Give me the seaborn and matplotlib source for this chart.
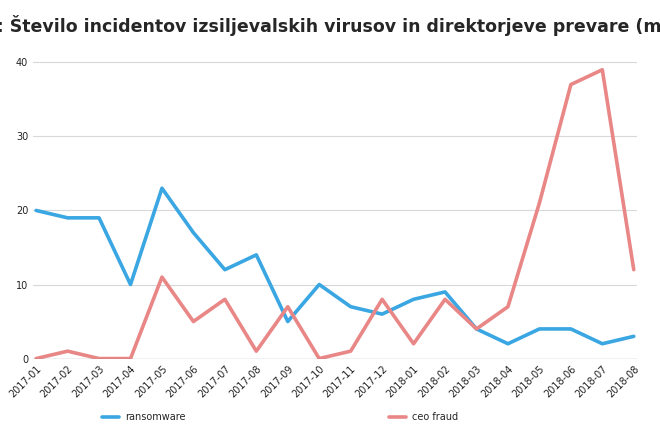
import pandas as pd
import seaborn as sns
import matplotlib.pyplot as plt

months = ["2017-01", "2017-02", "2017-03", "2017-04", "2017-05", "2017-06", "2017-07",
          "2017-08", "2017-09", "2017-10", "2017-11", "2017-12", "2018-01", "2018-02",
          "2018-03", "2018-04", "2018-05", "2018-06", "2018-07", "2018-08"]
ransomware = [20, 19, 19, 10, 23, 17, 12, 14, 5, 10, 7, 6, 8, 9, 4, 2, 4, 4, 2, 3]
ceo_fraud = [0, 1, 0, 0, 11, 5, 8, 1, 7, 0, 1, 8, 2, 8, 4, 7, 21, 37, 39, 12]

df = pd.DataFrame({"mesec": months, "ransomware": ransomware, "ceo fraud": ceo_fraud})
long = df.melt(id_vars="mesec", var_name="serija", value_name="st")

sns.set_theme(style="white")
fig, ax = plt.subplots(figsize=(6.6, 4.32), dpi=100)
sns.lineplot(data=long, x="mesec", y="st", hue="serija", sort=False,
             palette={"ransomware": "#3aa6e2", "ceo fraud": "#e98686"},
             linewidth=2.6, ax=ax, legend=False)

ax.set_ylim(0, 42)
ax.set_yticks([0, 10, 20, 30, 40])
ax.set_xlim(-0.1, len(months) - 0.9)
ax.grid(axis="y", color="#d8d8d8", linewidth=0.8)
ax.axhline(0, color="#444444", linewidth=0.8)
for s in ax.spines.values():
    s.set_visible(False)
ax.tick_params(axis="both", labelsize=7, length=0, colors="#222222")
plt.setp(ax.get_xticklabels(), rotation=45, ha="right", rotation_mode="anchor")
ax.set_xlabel("")
ax.set_ylabel("")
fig.suptitle("SI-CERT: Število incidentov izsiljevalskih virusov in direktorjeve prevare (mesečno)",
             fontsize=12.5, fontweight="bold", family=["Liberation Sans Narrow", "DejaVu Sans"],
             x=0.5, y=0.965)

fig.text(0.19, 0.035, "ransomware", fontsize=7, va="center")
fig.add_artist(plt.Line2D([0.155, 0.18], [0.035, 0.035], color="#3aa6e2", linewidth=2.6))
fig.text(0.625, 0.035, "ceo fraud", fontsize=7, va="center")
fig.add_artist(plt.Line2D([0.59, 0.615], [0.035, 0.035], color="#e98686", linewidth=2.6))

fig.subplots_adjust(left=0.05, right=0.965, top=0.89, bottom=0.17)
fig.savefig("out.png", dpi=100)
